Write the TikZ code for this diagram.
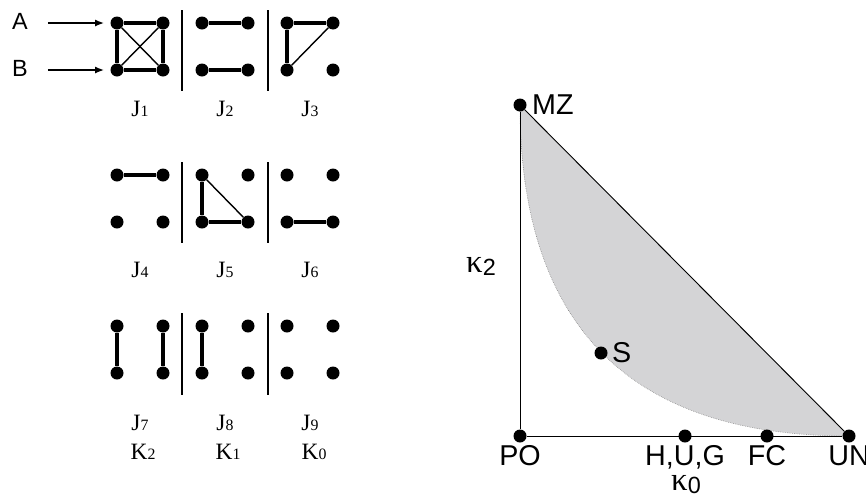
\documentclass[tikz,border=0pt]{standalone}
\usepackage{fontspec}
\setmainfont{Liberation Serif}
\setsansfont{Liberation Sans}
\usepackage{xcolor}
\usetikzlibrary{arrows.meta,calc,backgrounds}

\newcommand{\jsub}[1]{{\fontsize{13.5}{13.5}\selectfont #1}}
\newcommand{\kap}[1]{{\fontsize{28}{28}\selectfont κ}\raisebox{-0.3em}{\sffamily\fontsize{20}{20}\selectfont #1}}
\definecolor{regiongray}{RGB}{212,212,214}

\begin{document}
\begin{tikzpicture}[
    x=0.03cm, y=-0.03cm,
    dot/.style={circle, fill, inner sep=0pt, minimum size=0.39cm},
    edge/.style={line width=2.6pt},
    diag/.style={line width=1.2pt},
    sep/.style={line width=1pt},
    feed/.style={-{Latex[length=8pt,width=6pt]}, line width=1.6pt},
    side/.style={line width=0.8pt},
    tag/.style={font=\sffamily\fontsize{20}{20}\selectfont, inner sep=0pt},
    jlab/.style={anchor=base, font=\fontsize{20}{20}\selectfont, inner sep=0pt},
    lab/.style={font=\sffamily\fontsize{24.5}{24.5}\selectfont, inner sep=0.5pt}
  ]
    \useasboundingbox (0,0) rectangle (866,497);

    % the nine graphs J1..J9
    \foreach \n/\x/\y in {1/117/23, 2/202/23, 3/287/23,
                          4/117/175, 5/202/175, 6/287/175,
                          7/117/326, 8/202/326, 9/287/326} {
      \node[dot] (j\n-a) at (\x,\y) {};
      \node[dot] (j\n-b) at (\x+46,\y) {};
      \node[dot] (j\n-c) at (\x,\y+47) {};
      \node[dot] (j\n-d) at (\x+46,\y+47) {};
    }
    \foreach \x in {182,268} {
      \draw[sep] (\x,10) -- (\x,91);
      \draw[sep] (\x,162) -- (\x,243);
      \draw[sep] (\x,313) -- (\x,395);
    }

    \node[tag] (A) at (20,21) {A};
    \node[tag] (B) at (20,68) {B};
    \draw[feed, shorten <=17pt, shorten >=5pt] (A.east |- j1-a) -- (j1-a);
    \draw[feed, shorten <=17pt, shorten >=5pt] (B.east |- j1-c) -- (j1-c);

    \draw[edge] (j1-a) -- (j1-b);
    \draw[edge] (j1-c) -- (j1-d);
    \draw[edge] (j1-a) -- (j1-c);
    \draw[edge] (j1-b) -- (j1-d);
    \draw[diag] (j1-a) -- (j1-d);
    \draw[diag] (j1-b) -- (j1-c);
    \draw[edge] (j2-a) -- (j2-b);
    \draw[edge] (j2-c) -- (j2-d);
    \draw[edge] (j3-a) -- (j3-b);
    \draw[edge] (j3-a) -- (j3-c);
    \draw[diag] (j3-c) -- (j3-b);
    \draw[edge] (j4-a) -- (j4-b);
    \draw[edge] (j5-a) -- (j5-c);
    \draw[edge] (j5-c) -- (j5-d);
    \draw[diag] (j5-a) -- (j5-d);
    \draw[edge] (j6-c) -- (j6-d);
    \draw[edge] (j7-a) -- (j7-c);
    \draw[edge] (j7-b) -- (j7-d);
    \draw[edge] (j8-a) -- (j8-c);

    \node[jlab] (l1) at (140,116) {J\jsub{1}};
    \node[jlab] (l2) at (225,116) {J\jsub{2}};
    \node[jlab] (l3) at (310,116) {J\jsub{3}};
    \node[jlab] (l4) at (140,277) {J\jsub{4}};
    \node[jlab] (l5) at (225,277) {J\jsub{5}};
    \node[jlab] (l6) at (310,277) {J\jsub{6}};
    \node[jlab] (l7) at (140,430) {J\jsub{7}};
    \node[jlab] (l8) at (225,430) {J\jsub{8}};
    \node[jlab] (l9) at (310,430) {J\jsub{9}};
    \node[jlab] (k2) at (143,459) {K\jsub{2}};
    \node[jlab] (k1) at (228,459) {K\jsub{1}};
    \node[jlab] (k0) at (314,459) {K\jsub{0}};

    % the (kappa0, kappa2) triangle
    \node[dot, label={[lab, label distance=4pt]right:MZ}] (mz) at (520,105) {};
    \node[dot, label={[lab, label distance=2pt]below:PO}] (po) at (520,436) {};
    \node[dot, label={[lab, label distance=2pt]below:H,U,G}] (hug) at (685,436) {};
    \node[dot, label={[lab, label distance=2pt]below:FC}] (fc) at (767,436) {};
    \node[dot, label={[lab, label distance=2pt]below:UN}] (un) at (849,436) {};
    \node[dot, label={[lab, label distance=3pt]right:S}] (s) at (601,353) {};

    \begin{scope}[on background layer]
      \fill[regiongray] (mz.center) -- (un.center)
        .. controls ($(un.center)!2/3!(po.center)$) and ($(mz.center)!2/3!(po.center)$) .. (mz.center);
      \draw[gray, densely dotted, line width=0.5pt] (un.center)
        .. controls ($(un.center)!2/3!(po.center)$) and ($(mz.center)!2/3!(po.center)$) .. (mz.center);
    \end{scope}
    \draw[side] (po) -- (mz);
    \draw[side] (po) -- (un);
    \draw[side] (mz) -- (un);

    \node[anchor=base, inner sep=0pt] (kx) at (481,272) {\kap{2}};
    \node[anchor=base, inner sep=0pt] (ky) at (686,490) {\kap{0}};
  \end{tikzpicture}
\end{document}
